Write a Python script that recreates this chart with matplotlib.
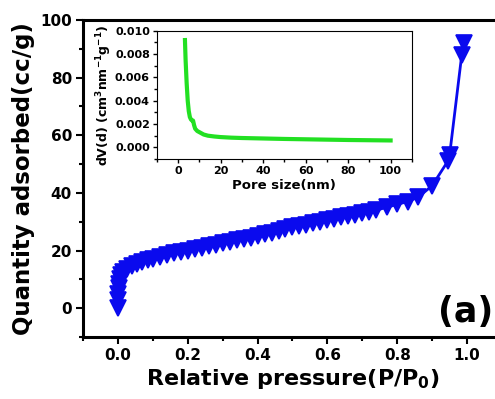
import numpy as np
import matplotlib.pyplot as plt
from matplotlib.ticker import MultipleLocator

# adsorption isotherm
pressure = [0.0, 0.0005, 0.001, 0.002, 0.003, 0.005, 0.008, 0.015, 0.025, 0.04,
            0.055, 0.07, 0.085, 0.10, 0.12, 0.14, 0.16, 0.18, 0.20, 0.22,
            0.24, 0.26, 0.28, 0.30, 0.32, 0.34, 0.36, 0.38, 0.40, 0.42,
            0.44, 0.46, 0.48, 0.50, 0.52, 0.54, 0.56, 0.58, 0.60, 0.62,
            0.64, 0.66, 0.68, 0.70, 0.72, 0.74, 0.77, 0.80, 0.83, 0.86,
            0.90, 0.945, 0.95, 0.985, 0.99]
quantity = [0.0, 3.0, 5.0, 7.0, 8.5, 10.0, 11.5, 12.5, 13.5, 14.5,
            15.3, 16.0, 16.6, 17.2, 17.8, 18.4, 19.0, 19.5, 20.0, 20.5,
            21.0, 21.5, 22.0, 22.5, 23.0, 23.5, 24.0, 24.5, 25.0, 25.6,
            26.2, 26.8, 27.4, 28.0, 28.5, 29.0, 29.5, 30.0, 30.6, 31.0,
            31.5, 32.0, 32.5, 33.0, 33.5, 34.0, 35.0, 36.0, 37.0, 38.5,
            42.5, 51.0, 53.0, 88.0, 92.0]

# pore size distribution (inset)
pore_size = [3.2, 3.5, 4, 4.5, 5, 5.5, 6, 6.5, 7, 7.5, 8, 9, 10, 12, 14, 17,
             20, 25, 30, 40, 50, 60, 70, 80, 90, 100]
dvd = [0.0092, 0.0075, 0.0055, 0.0040, 0.0031, 0.0026, 0.0024, 0.0023, 0.0023,
       0.0019, 0.0016, 0.0014, 0.0013, 0.0011, 0.0010, 0.00093, 0.00088,
       0.00083, 0.0008, 0.00076, 0.00072, 0.00069, 0.00066, 0.00063, 0.00061,
       0.00059]

plt.rcParams['font.family'] = ['DejaVu Sans']
plt.rcParams['font.weight'] = 'bold'
plt.rcParams['mathtext.default'] = 'bf'

fig = plt.figure(figsize=(4.95, 3.99), dpi=100)
ax = fig.add_axes([0.1677, 0.1554, 0.8463, 0.7945])

blue = '#0a0aee'
ax.plot(pressure, quantity, color=blue, lw=2, marker='v', ms=11,
        markeredgecolor=blue, markeredgewidth=1.2)
ax.set_xlim(-0.1, 1.1)
ax.set_ylim(-10, 100)
ax.xaxis.set_major_locator(MultipleLocator(0.2))
ax.xaxis.set_minor_locator(MultipleLocator(0.1))
ax.yaxis.set_major_locator(MultipleLocator(20))
ax.yaxis.set_minor_locator(MultipleLocator(10))
ax.tick_params(which='both', direction='out', width=1.5, labelsize=11, pad=3)
ax.tick_params(which='major', length=5)
ax.tick_params(which='minor', length=3)
for s in ax.spines.values():
    s.set_linewidth(2.2)
ax.set_xlabel('Relative pressure(P/P$_0$)', fontsize=16, fontweight='bold', labelpad=3)
ax.set_ylabel('Quantity adsorbed(cc/g)', fontsize=16.5, fontweight='bold', labelpad=4)
ax.text(0.997, -1.5, '(a)', fontsize=25, fontweight='bold', ha='center', va='center')

ins = fig.add_axes([0.317, 0.6015, 0.515, 0.3215])
ins.plot(pore_size, dvd, color='#22e022', lw=3)
ins.set_xlim(-10, 110)
ins.set_ylim(-0.001, 0.010)
ins.xaxis.set_major_locator(MultipleLocator(20))
ins.xaxis.set_minor_locator(MultipleLocator(10))
ins.yaxis.set_major_locator(MultipleLocator(0.002))
ins.yaxis.set_minor_locator(MultipleLocator(0.001))
ins.yaxis.set_major_formatter(plt.FormatStrFormatter('%.3f'))
ins.tick_params(which='both', direction='out', labelsize=8, width=1, pad=2)
ins.tick_params(which='major', length=3)
ins.tick_params(which='minor', length=2)
ins.set_xlabel('Pore size(nm)', fontsize=9.5, fontweight='bold', labelpad=2)
ins.set_ylabel('dV(d) (cm$^3$nm$^{-1}$g$^{-1}$)', fontsize=9,
               fontweight='bold', labelpad=1)

fig.savefig('out.png', dpi=100)
